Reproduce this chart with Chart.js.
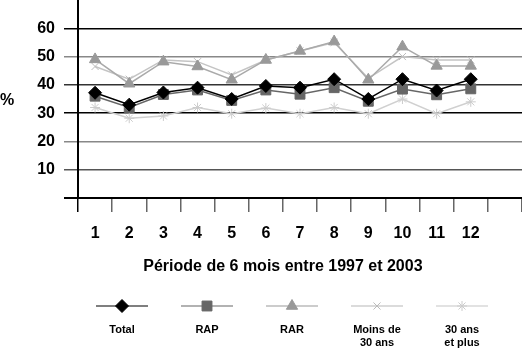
<!DOCTYPE html>
<html>
<head>
<meta charset="utf-8">
<script src="https://cdn.jsdelivr.net/npm/chart.js@4.4.1/dist/chart.umd.min.js"></script>
<style>
  body { margin: 0; background: #fff; }
  #wrap { width: 522px; height: 351px; position: relative; }
</style>
</head>
<body>
<div id="wrap"><canvas id="chart_periodes"></canvas></div>
<script>
// periods (13th slot is empty, like in the original)
const periodes = ["1", "2", "3", "4", "5", "6", "7", "8", "9", "10", "11", "12", ""];

const seriesNames = ["Total", "RAP", "RAR", "Moins de\n30 ans", "30 ans\net plus"];

const total = [37.2, 33.0, 37.3, 39.0, 35.0, 39.6, 39.0, 42.0, 35.0, 42.0, 38.0, 42.0];
const rap = [36.0, 32.0, 36.6, 38.2, 34.5, 38.2, 36.7, 39.0, 34.2, 38.5, 36.5, 38.6];
const rar = [49.0, 40.4, 48.2, 46.5, 41.8, 48.8, 52.0, 55.3, 41.8, 53.5, 46.7, 46.7];
const moins30 = [46.5, 42.0, 48.8, 48.2, 43.5, 48.8, 52.0, 55.0, 42.3, 50.0, 48.8, 48.8];
const plus30 = [32.0, 28.2, 29.0, 32.0, 29.8, 31.8, 29.8, 32.0, 29.8, 35.0, 29.8, 34.0];

const yTicks = [0, 10, 20, 30, 40, 50, 60, 70];

function gridColor(v) {
  if (v == 0 || v == 30 || v == 60) return "#000";
  if (v == 40) return "#333";
  if (v == 10) return "#555";
  if (v == 70) return "rgba(0,0,0,0)";
  return "#888";
}

// draws the "%" label, the x title and the legend under the chart
const extrasPlugin = {
  id: "extras",
  afterDraw(chart) {
    const ctx = chart.ctx;
    const xs = chart.scales.x;
    ctx.save();
    ctx.fillStyle = "#000";
    ctx.font = "bold 16px 'Liberation Sans', Arial, sans-serif";
    ctx.textAlign = "left";
    ctx.textBaseline = "middle";
    ctx.fillText("%", 0, 101);

    ctx.textAlign = "center";
    let cx = (xs.getPixelForValue(0) + xs.getPixelForValue(11)) / 2;
    ctx.fillText("Période de 6 mois entre 1997 et 2003", cx, 267);

    chart.data.datasets.forEach((ds, i) => {
      let lx = 122 + i * 85;
      let ly = 306;
      ctx.strokeStyle = ds.legendLine;
      ctx.lineWidth = 1.5;
      ctx.beginPath();
      ctx.moveTo(lx - 26, ly);
      ctx.lineTo(lx + 26, ly);
      ctx.stroke();
      ctx.fillStyle = ds.pointBackgroundColor;
      ctx.strokeStyle = ds.pointBorderColor;
      ctx.lineWidth = 1;
      Chart.helpers.drawPoint(ctx, {
        pointStyle: ds.pointStyle,
        radius: ds.pointRadius,
        rotation: 0,
        borderWidth: 1,
      }, lx, ly);
      ctx.fillStyle = "#000";
      ctx.font = "bold 11px 'Liberation Sans', Arial, sans-serif";
      ds.label.split("\n").forEach((line, j) => {
        ctx.fillText(line, lx, 330 + j * 12.5);
      });
    });
    ctx.restore();
  },
};

function makeDataset(label, data, line, fill, border, style, radius, legendLine) {
  return {
    label: label,
    data: data,
    borderColor: line,
    borderWidth: 1.5,
    pointBackgroundColor: fill,
    pointBorderColor: border,
    pointBorderWidth: 1,
    pointStyle: style,
    pointRadius: radius,
    legendLine: legendLine,
    tension: 0,
  };
}

var ctx = document.getElementById("chart_periodes").getContext("2d");
var myChart = new Chart(ctx, {
  type: "line",
  data: {
    labels: periodes,
    datasets: [
      makeDataset(seriesNames[0], total, "#000", "#000", "#000", "rectRot", 6.5, "#555"),
      makeDataset(seriesNames[1], rap, "#666", "#666", "#666", "rect", 7, "#999"),
      makeDataset(seriesNames[2], rar, "#aaa", "#999", "#999", "triangle", 6.5, "#bbb"),
      makeDataset(seriesNames[3], moins30, "#c4c4c4", "#bbb", "#bbb", "crossRot", 5, "#cfcfcf"),
      makeDataset(seriesNames[4], plus30, "#d0d0d0", "#ccc", "#ccc", "star", 5, "#d8d8d8"),
    ],
  },
  plugins: [extrasPlugin],
  options: {
    animation: false,
    responsive: true,
    maintainAspectRatio: false,
    layout: { padding: 0, autoPadding: false },
    plugins: {
      legend: { display: false },
      tooltip: { enabled: false },
    },
    scales: {
      x: {
        offset: true,
        afterFit: function (scale) {
          scale.height = 153;
          scale.paddingLeft = 0;
          scale.paddingRight = 0;
        },
        grid: {
          offset: true,
          drawOnChartArea: false,
          tickLength: 14,
          lineWidth: 1.5,
          color: function (c) {
            return c.index == 0 ? "#000" : "#666";
          },
        },
        border: { color: "#000", width: 2 },
        ticks: {
          color: "#000",
          padding: 12,
          maxRotation: 0,
          autoSkip: false,
          font: { family: "'Liberation Sans', Arial, sans-serif", size: 16, weight: "bold" },
        },
      },
      y: {
        min: 0,
        max: 70,
        afterFit: function (scale) {
          scale.width = 78;
          scale.paddingTop = 0;
          scale.paddingBottom = 0;
        },
        afterBuildTicks: function (scale) {
          scale.ticks = yTicks.map((v) => ({ value: v }));
        },
        grid: {
          tickLength: 14,
          lineWidth: function (c) {
            return c.tick && c.tick.value == 0 ? 2 : 1.5;
          },
          color: function (c) {
            return gridColor(c.tick ? c.tick.value : 0);
          },
        },
        border: { color: "#000", width: 2 },
        ticks: {
          color: "#000",
          padding: 9,
          callback: function (v) {
            return v == 0 || v == 70 ? "" : v;
          },
          font: { family: "'Liberation Sans', Arial, sans-serif", size: 16, weight: "bold" },
        },
      },
    },
  },
});
</script>
</body>
</html>
